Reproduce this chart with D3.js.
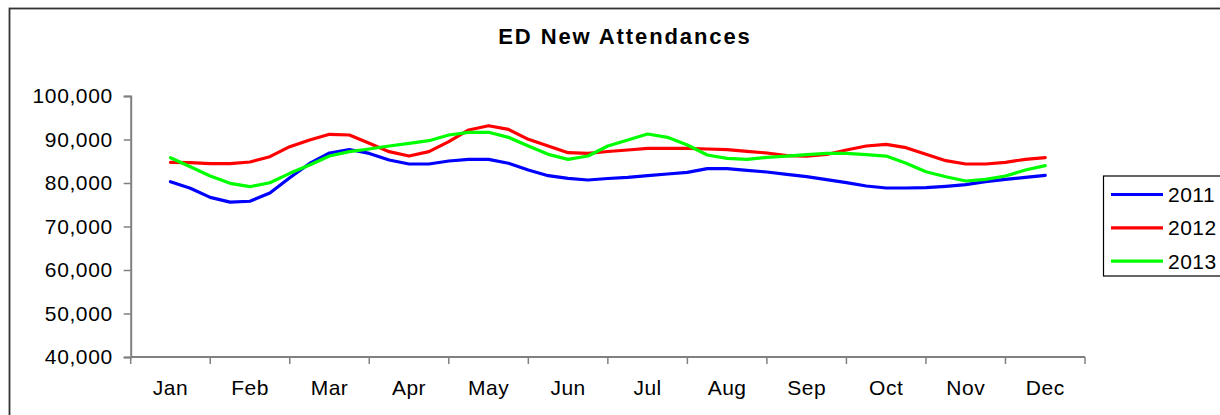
<!DOCTYPE html>
<html>
<head>
<meta charset="utf-8">
<script src="https://cdn.jsdelivr.net/npm/d3@7"></script>
<style>
  html, body { margin: 0; padding: 0; background: #fff; }
  svg { display: block; font-family: "Liberation Sans", Arial, sans-serif; }
</style>
</head>
<body>
<svg id="chart" width="1220" height="415"></svg>
<script>
const title = "ED New Attendances";
const months = ["Jan","Feb","Mar","Apr","May","Jun","Jul","Aug","Sep","Oct","Nov","Dec"];
const yTicks = [40000, 50000, 60000, 70000, 80000, 90000, 100000];
const seriesNames = ["2011", "2012", "2013"];
const seriesColors = ["#0000ff", "#ff0000", "#00ff00"];

const values2011 = [
  80300, 78800, 76700, 75600, 75800, 77700, 81200, 84500, 86900, 87700, 86800, 85300,
  84370, 84370, 85060, 85440, 85440, 84530, 82990, 81680, 81070, 80690, 81030,
  81300, 81680, 82070, 82450, 83290, 83290, 82910, 82530, 82000, 81450, 80760,
  80070, 79310, 78850, 78850, 78920, 79240, 79610, 80300, 80840, 81300, 81770
];
const values2012 = [
  84750, 84680, 84450, 84450, 84830, 86050, 88350, 89880, 91190, 91030, 89120, 87200,
  86200, 87210, 89510, 92190, 93170, 92340, 90040, 88500, 86970, 86820, 87240,
  87590, 87970, 87970, 87970, 87820, 87660, 87280, 86900, 86280, 86200, 86550,
  87590, 88500, 88890, 88120, 86590, 85130, 84370, 84370, 84750, 85440, 85820
];
const values2013 = [
  85820, 83750, 81610, 79930, 79150, 80070, 82220, 84140, 86200, 87210, 87820, 88500,
  89120, 89730, 91030, 91650, 91650, 90500, 88500, 86590, 85440, 86200, 88500,
  89880, 91260, 90500, 88730, 86440, 85670, 85440, 85900, 86200, 86510, 86820,
  86820, 86510, 86200, 84530, 82600, 81450, 80460, 80840, 81610, 82990, 83980
];
const allSeries = [values2011, values2012, values2013];

const svg = d3.select("#chart");

// outer chart frame
svg.append("rect")
  .attr("x", 9.5).attr("y", 8.5)
  .attr("width", 1240).attr("height", 430)
  .attr("fill", "#fff").attr("stroke", "#333").attr("stroke-width", 1.8);

// title
svg.append("text")
  .attr("x", 625).attr("y", 44)
  .attr("text-anchor", "middle")
  .attr("font-size", 22).attr("font-weight", "bold")
  .attr("letter-spacing", "1.9px")
  .attr("fill", "#000")
  .text(title);

const plotLeft = 130.7, plotRight = 1085, plotTop = 96, plotBottom = 357;

const xBand = d3.scaleBand().domain(months).range([plotLeft, plotRight]).paddingInner(0).paddingOuter(0);
const y = d3.scaleLinear().domain([40000, 100000]).range([plotBottom, plotTop]);

const xFirst = xBand(months[0]) + xBand.bandwidth() / 2;
const xLast = xBand(months[months.length - 1]) + xBand.bandwidth() / 2;
const xIdx = d3.scaleLinear().domain([0, values2011.length - 1]).range([xFirst, xLast]);

// y axis
const yAxis = d3.axisLeft(y).tickValues(yTicks).tickSize(7).tickPadding(11)
  .tickFormat(d3.format(","));
const gy = svg.append("g").attr("transform", `translate(${plotLeft},0)`).call(yAxis);
gy.select(".domain").attr("stroke", "#808080").attr("stroke-width", 2);
gy.selectAll(".tick line").attr("stroke", "#808080").attr("stroke-width", 1.5);
gy.selectAll(".tick text").attr("font-size", 21).attr("fill", "#000")
  .attr("font-family", "'Liberation Sans', Arial, sans-serif")
  .attr("letter-spacing", "0.6px");

// x axis: ticks at band boundaries, labels at band centres
const xAxisG = svg.append("g").attr("transform", `translate(0,${plotBottom})`);
xAxisG.append("line")
  .attr("x1", plotLeft).attr("x2", plotRight)
  .attr("stroke", "#808080").attr("stroke-width", 2);
const boundaries = months.map(m => xBand(m)).concat([plotRight]);
xAxisG.selectAll("line.tk").data(boundaries).join("line")
  .attr("class", "tk")
  .attr("x1", d => d).attr("x2", d => d)
  .attr("y1", 0).attr("y2", 7)
  .attr("stroke", "#808080").attr("stroke-width", 1.5);
xAxisG.selectAll("text").data(months).join("text")
  .attr("x", d => xBand(d) + xBand.bandwidth() / 2)
  .attr("y", 38)
  .attr("text-anchor", "middle")
  .attr("font-size", 21).attr("fill", "#000")
  .attr("letter-spacing", "0.5px")
  .text(d => d);

// lines
const line = d3.line().x((d, i) => xIdx(i)).y(d => y(d));
allSeries.forEach((vals, k) => {
  svg.append("path")
    .datum(vals)
    .attr("fill", "none")
    .attr("stroke", seriesColors[k])
    .attr("stroke-width", 3.2)
    .attr("stroke-linejoin", "round")
    .attr("stroke-linecap", "round")
    .attr("d", line);
});

// legend
const lg = svg.append("g");
lg.append("rect")
  .attr("x", 1103.5).attr("y", 176)
  .attr("width", 140).attr("height", 100)
  .attr("fill", "#fff").attr("stroke", "#000").attr("stroke-width", 1.2);
seriesNames.forEach((name, k) => {
  const ly = 194.5 + k * 33.3;
  lg.append("line")
    .attr("x1", 1111).attr("x2", 1163)
    .attr("y1", ly).attr("y2", ly)
    .attr("stroke", seriesColors[k]).attr("stroke-width", 3.2);
  lg.append("text")
    .attr("x", 1168).attr("y", ly + 7.5)
    .attr("font-size", 21).attr("fill", "#000")
    .attr("letter-spacing", "0.5px")
    .text(name);
});
</script>
</body>
</html>
